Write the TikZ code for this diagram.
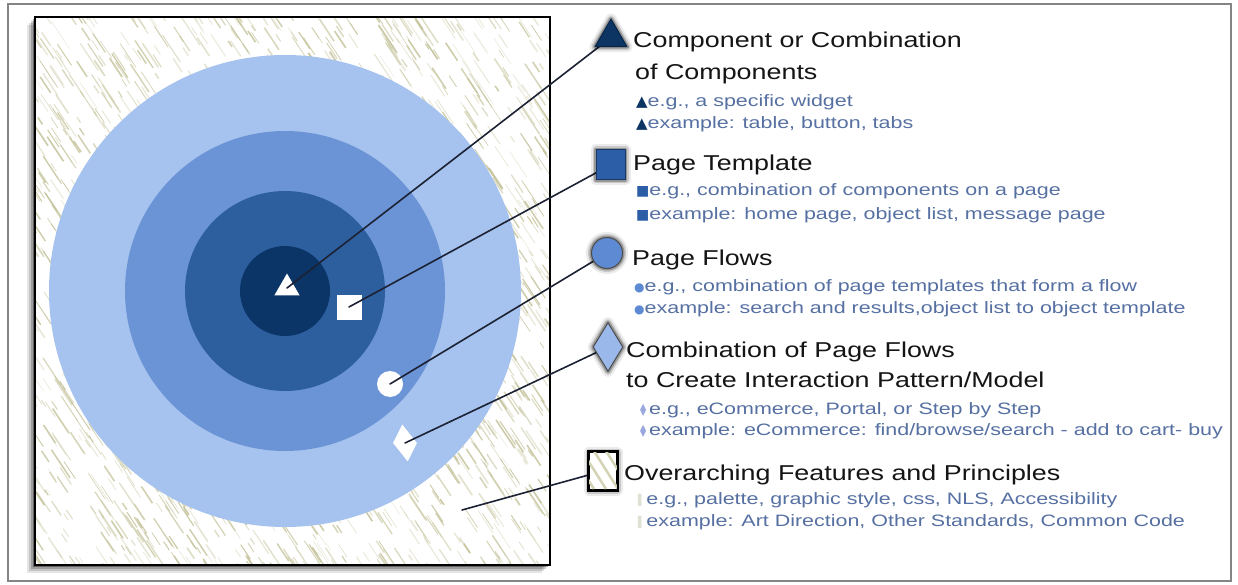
\documentclass[tikz,border=0pt]{standalone}
\usepackage{fontspec}
\setmainfont{Liberation Sans}
\newfontfamily\headfont[FakeStretch=1.25]{Liberation Sans}
\newfontfamily\subfont[FakeStretch=1.3]{Liberation Sans}
\newfontfamily\symfont{DejaVu Sans}
\usetikzlibrary{shapes.geometric,calc}
\definecolor{ringA}{HTML}{A6C2EE}
\definecolor{ringB}{HTML}{6B94D6}
\definecolor{ringC}{HTML}{2D5F9F}
\definecolor{ringD}{HTML}{0B3566}
\definecolor{streak}{HTML}{C2C096}
\definecolor{subc}{HTML}{5670A2}
\definecolor{headc}{HTML}{151515}
\definecolor{linec}{HTML}{1C2233}
\definecolor{framec}{HTML}{858585}
\definecolor{triC}{HTML}{0C3564}
\definecolor{sqC}{HTML}{2B5EA6}
\definecolor{ciC}{HTML}{5D8AD2}
\definecolor{diC}{HTML}{9AB8EA}
\definecolor{diB}{HTML}{9AA6DE}
\definecolor{ovB}{HTML}{E0E0D4}
\newcommand{\bulA}{\symfont\fontsize{15}{15}\selectfont\color{triC}}
\newcommand{\bulB}{\symfont\fontsize{14}{14}\selectfont\color{sqC}}
\newcommand{\bulC}{\symfont\fontsize{12}{12}\selectfont\color{ciC}}
\newcommand{\bulD}{\symfont\fontsize{16}{16}\selectfont\color{diB}}
\newcommand{\bulE}{\symfont\fontsize{16}{16}\selectfont\color{ovB}}
\begin{document}
\begin{tikzpicture}[x=1pt,y=-1pt,
  head/.style={anchor=base west, inner sep=0pt, text=headc, font=\headfont\fontsize{21.5}{21.5}\selectfont},
  sub/.style={anchor=base west, inner sep=0pt, text=subc, font=\subfont\fontsize{16.5}{16.5}\selectfont},
  marker/.style={fill=white, draw=none, inner sep=0pt},
  conn/.style={draw=linec, line width=1.6pt, line cap=round},
  glow/.style={line join=round,
     preaction={draw=black, draw opacity=0.08, line width=11pt},
     preaction={draw=black, draw opacity=0.14, line width=7pt},
     preaction={draw=black, draw opacity=0.25, line width=4pt}},
  icon/.style={glow, draw=black!75, line width=1pt, inner sep=0pt}
]
\useasboundingbox (0,0) rectangle (1238,585);
\fill[white] (0,0) rectangle (1238,585);
% outer frame
\draw[framec, line width=2pt] (8,4) rectangle (1231,581);

% shadow of the picture square
\foreach \k/\o in {8/0.10,6/0.14,4/0.2,2/0.35}{
  \fill[black, opacity=\o] (35-\k,17+\k) rectangle (550-\k,565+\k);
}
\fill[white] (35,17) rectangle (550,565);

% hatched streak background
\begin{scope}
\clip (35,17) rectangle (550,565);
\pgfmathsetseed{4242}
\foreach \i in {1,...,2600}{
  \pgfmathsetmacro{\sx}{rnd*640-90}
  \pgfmathsetmacro{\sy}{rnd*620-30}
  \pgfmathsetmacro{\sl}{6+rnd*28}
  \pgfmathsetmacro{\sw}{0.5+rnd*1.2}
  \pgfmathsetmacro{\so}{0.25+rnd*0.6}
  \draw[draw=streak, line width=\sw pt, draw opacity=\so] (\sx,\sy) -- ++(0.55*\sl,0.83*\sl);
}
\end{scope}

% concentric circles
\fill[ringA] (285,291) circle[radius=236];
\fill[ringB] (285,291) circle[radius=160];
\fill[ringC] (285,291) circle[radius=100];
\fill[ringD] (285,291) circle[radius=45];

\draw[black, line width=2pt] (35,17) rectangle (550,565);

% white markers
\node[marker, regular polygon, regular polygon sides=3, minimum size=29pt] (mtri) at (287,288) {};
\node[marker, rectangle, minimum size=25pt] (msq) at (349,307) {};
\node[marker, circle, minimum size=26pt] (mci) at (390,384) {};
\node[marker, diamond, minimum width=24pt, minimum height=37pt, xslant=-0.15] (mdi) at (405,443) {};
\coordinate (mov) at (462,510);

% legend icons (positions)
\coordinate (pitri) at (611,37.5);
\coordinate (pisq) at (610.5,165);
\coordinate (pici) at (607,253);
\coordinate (pidi) at (608,347);
\coordinate (piov) at (603,471);

% connectors
\draw[conn] (mtri.center) -- (pitri);
\draw[conn] (msq.center) -- (pisq);
\draw[conn] (mci.center) -- (pici);
\draw[conn] (mdi.center) -- (pidi);
\draw[conn] (mov) -- (piov);

% legend icons
\node[icon, regular polygon, regular polygon sides=3, minimum size=37pt, fill=triC, draw=triC!70!black] (itri) at (pitri) {};
\node[icon, rectangle, minimum width=29pt, minimum height=30pt, fill=sqC, draw=sqC!60!black] (isq) at (pisq) {};
\node[icon, circle, minimum size=31pt, fill=ciC, draw=black!70] (ici) at (pici) {};
\node[icon, diamond, minimum width=30pt, minimum height=49pt, fill=diC, draw=black!70] (idi) at (pidi) {};
\node[icon, rectangle, minimum width=28pt, minimum height=38pt, fill=white, draw=black, line width=2pt] (iov) at (piov) {};
\begin{scope}
\clip (iov.south west) rectangle (iov.north east);
\foreach \d in {-30,-18,-6,6,18}{
  \draw[streak!70, line width=2.5pt] ($(iov.north west)+(\d,0)$) -- ++(24,38);
}
\end{scope}
\draw[black, line width=2pt] (iov.south west) rectangle (iov.north east);

% texts
\node[head] (h1a) at (633,48) {Component or Combination};
\node[head] (h1b) at (635,80) {of Components};
\node[sub] (s1a) at (636,107) {{\bulA ▲}e.g., a specific widget};
\node[sub] (s1b) at (636,129) {{\bulA ▲}example: table, button, tabs};

\node[head] (h2) at (633,171) {Page Template};
\node[sub] (s2a) at (636,196) {{\bulB ■}e.g., combination of components on a page};
\node[sub] (s2b) at (636,219) {{\bulB ■}example: home page, object list, message page};

\node[head] (h3) at (632,265) {Page Flows};
\node[sub] (s3a) at (634,291) {{\bulC ●}e.g., combination of page templates that form a flow};
\node[sub] (s3b) at (634,313) {{\bulC ●}example: search and results,object list to object template};

\node[head] (h4a) at (626,357) {Combination of Page Flows};
\node[head] (h4b) at (626,387) {to Create Interaction Pattern/Model};
\node[sub] (s4a) at (640,414) {{\bulD\scalebox{0.5}[1]{◆}}\,e.g., eCommerce, Portal, or Step by Step};
\node[sub] (s4b) at (640,435) {{\bulD\scalebox{0.5}[1]{◆}}\,example: eCommerce: find/browse/search - add to cart- buy};

\node[head] (h5) at (624,480) {Overarching Features and Principles};
\node[sub] (s5a) at (637,504) {{\bulE\scalebox{0.6}[1]{▮}}\hspace{4pt}e.g., palette, graphic style, css, NLS, Accessibility};
\node[sub] (s5b) at (637,526) {{\bulE\scalebox{0.6}[1]{▮}}\hspace{4pt}example: Art Direction, Other Standards, Common Code};
\end{tikzpicture}
\end{document}
